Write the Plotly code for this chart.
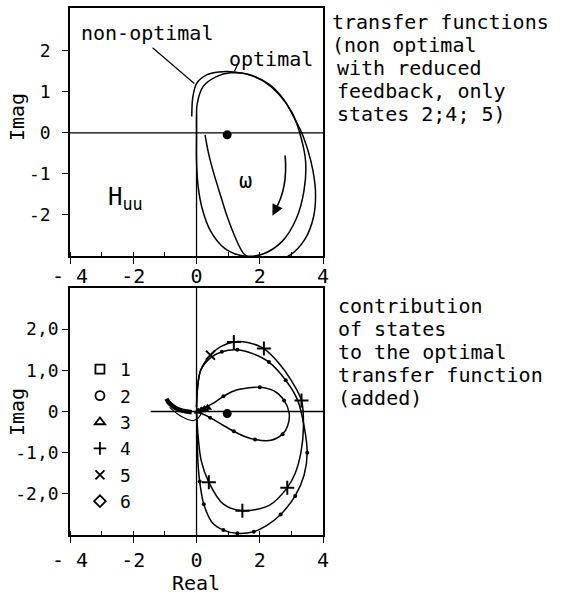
import plotly.graph_objects as go

FONT = "DejaVu Sans Mono"
INK = "black"

# ---- upper panel: transfer functions H_uu ----
opt_x = [0.0, 0.0, 0.02, 0.21, 0.63, 1.07, 1.6, 2.15, 2.62, 3.03, 3.3, 3.45, 3.4, 3.15, 2.7, 2.1, 1.5, 0.9, 0.45, 0.18, 0.05, 0.0, 0.0]
opt_y = [0.0, 0.35, 0.7, 1.13, 1.37, 1.46, 1.43, 1.24, 0.93, 0.48, -0.1, -0.7, -1.4, -2.1, -2.65, -2.95, -3.0, -2.82, -2.4, -1.85, -1.3, -0.7, 0.0]

nonopt_x = [-0.15, -0.12, 0.0, 0.32, 0.7, 1.2, 1.8, 2.3, 2.75, 3.1, 3.38, 3.62, 3.76, 3.7, 3.42, 2.95, 2.3, 1.8, 1.5, 1.2, 0.97, 0.75, 0.55, 0.38, 0.27]
nonopt_y = [0.4, 0.85, 1.2, 1.41, 1.48, 1.48, 1.38, 1.18, 0.82, 0.35, -0.1, -0.7, -1.4, -2.05, -2.6, -2.98, -3.14, -3.08, -2.95, -2.5, -2.04, -1.5, -1.0, -0.5, -0.05]

# ---- lower panel: contribution of the states (added) ----
plus_x = [0.0, 0.03, 0.13, 0.44, 0.75, 1.18, 1.65, 2.13, 2.6, 3.0, 3.32, 3.38, 3.3, 3.12, 2.87, 2.3, 1.45, 0.85, 0.39, 0.15, 0.05, 0.0]
plus_y = [0.1, 0.55, 1.0, 1.37, 1.57, 1.69, 1.67, 1.53, 1.18, 0.75, 0.27, -0.4, -1.0, -1.5, -1.85, -2.28, -2.41, -2.25, -1.72, -1.2, -0.6, 0.0]
plus_marks = [5, 7, 10, 14, 16, 18]
cross_marks = [3]

total_x = [0.0, 0.03, 0.13, 0.44, 0.8, 1.29, 1.8, 2.29, 2.82, 3.2, 3.4, 3.5, 3.4, 3.12, 2.66, 2.2, 1.81, 1.29, 0.85, 0.5, 0.23, 0.1, 0.05, 0.02, 0.0]
total_y = [0.1, 0.55, 1.0, 1.3, 1.45, 1.5, 1.4, 1.2, 0.76, 0.27, -0.35, -1.0, -1.55, -2.05, -2.5, -2.78, -2.92, -2.96, -2.88, -2.7, -2.25, -1.7, -1.3, -0.65, 0.0]
total_marks = [4, 5, 7, 8, 11, 13, 14, 16, 17, 18, 20, 21]

loop_x = [0.0, 0.25, 0.55, 0.85, 1.18, 1.6, 2.0, 2.45, 2.77, 2.93, 2.88, 2.72, 2.35, 1.85, 1.5, 1.18, 0.85, 0.43, 0.2, 0.0]
loop_y = [0.0, 0.09, 0.21, 0.37, 0.5, 0.57, 0.59, 0.5, 0.27, -0.04, -0.35, -0.55, -0.7, -0.68, -0.6, -0.48, -0.34, -0.15, -0.06, 0.0]
loop_marks = [3, 6, 8, 11, 13, 15, 17]

tail_x = [-0.95, -0.88, -0.75, -0.6, -0.45, -0.3, -0.15]
tail_y = [0.31, 0.22, 0.13, 0.06, 0.02, 0.0, -0.02]

under_x = [-0.85, -0.6, -0.35, -0.1, 0.05, 0.15]
under_y = [0.1, -0.06, -0.17, -0.22, -0.16, -0.05]

cluster_x = [0.05, 0.15, 0.25, 0.35]
cluster_y = [0.0, 0.03, 0.06, 0.09]

point_x = [0.97]
point_y = [-0.05]

# legend of state symbols
state_names = ["1", "2", "3", "4", "5", "6"]
state_symbols = ["square-open", "circle-open", "triangle-up-open", "cross-thin", "x-thin", "diamond-open"]

x_ticks = [-4, -2, 0, 2, 4]
x_ticktext = ["- 4", "-2", "0", "2", "4"]
y_ticks = [-2, -1, 0, 1, 2]
y_ticktext_top = ["-2", "-1", "0", "1", "2"]
y_ticktext_bot = ["-2,0", "-1,0", "0", "1,0", "2,0"]

fig = go.Figure()


def line(x, y, xa, ya, width=1.5):
    fig.add_trace(go.Scatter(
        x=x, y=y, xaxis=xa, yaxis=ya, mode="lines", showlegend=False,
        line=dict(color=INK, width=width, shape="spline", smoothing=0.9),
        hoverinfo="skip"))


def marks(x, y, idx, xa, ya, symbol, size, lw=1.5):
    fig.add_trace(go.Scatter(
        x=[x[i] for i in idx], y=[y[i] for i in idx], xaxis=xa, yaxis=ya,
        mode="markers", showlegend=False, hoverinfo="skip",
        marker=dict(symbol=symbol, size=size, color=INK,
                    line=dict(color=INK, width=lw))))


# upper panel curves
line(opt_x, opt_y, "x", "y")
line(nonopt_x, nonopt_y, "x", "y")
fig.add_trace(go.Scatter(x=point_x, y=point_y, xaxis="x", yaxis="y", mode="markers",
                         showlegend=False, marker=dict(color=INK, size=9)))

# lower panel curves
line(plus_x, plus_y, "x2", "y2")
marks(plus_x, plus_y, plus_marks, "x2", "y2", "cross-thin", 10, 2)
marks(plus_x, plus_y, cross_marks, "x2", "y2", "x-thin", 9, 2)
line(total_x, total_y, "x2", "y2")
marks(total_x, total_y, total_marks, "x2", "y2", "circle", 4, 0)
line(loop_x, loop_y, "x2", "y2")
marks(loop_x, loop_y, loop_marks, "x2", "y2", "circle", 4, 0)
line(tail_x, tail_y, "x2", "y2", width=4.5)
line(under_x, under_y, "x2", "y2", width=1.2)
fig.add_trace(go.Scatter(x=cluster_x, y=cluster_y, xaxis="x2", yaxis="y2", mode="lines+markers",
                         showlegend=False, line=dict(color=INK, width=4),
                         marker=dict(symbol="triangle-up", size=8, color=INK)))
fig.add_trace(go.Scatter(x=point_x, y=point_y, xaxis="x2", yaxis="y2", mode="markers",
                         showlegend=False, marker=dict(color=INK, size=9)))

# symbol key
for name, sym in zip(state_names, state_symbols):
    fig.add_trace(go.Scatter(
        x=[None], y=[None], xaxis="x2", yaxis="y2", mode="markers", name=name,
        marker=dict(symbol=sym, size=9, color=INK, line=dict(color=INK, width=1.8))))

axis_common = dict(showline=True, mirror=True, linecolor=INK, linewidth=1.6,
                   showgrid=False, zeroline=False, ticks="outside", ticklen=6,
                   tickcolor=INK, tickwidth=1.3, automargin=False)
x_common = dict(axis_common, range=[-4, 4], tickvals=x_ticks, ticktext=x_ticktext,
                tickfont=dict(family=FONT, size=20, color=INK),
                minor=dict(dtick=1, tick0=0, ticks="inside", ticklen=4,
                           tickcolor=INK, tickwidth=1.2))

fig.update_layout(
    template=None,
    width=567, height=600, margin=dict(l=0, r=0, t=0, b=0, autoexpand=False),
    paper_bgcolor="white", plot_bgcolor="white",
    font=dict(family=FONT, color=INK),
    xaxis=dict(x_common, domain=[0.1235, 0.5697], anchor="y", ticklabelstandoff=-5),
    yaxis=dict(axis_common, domain=[0.5733, 0.9867], anchor="x", range=[-3, 3.04],
               tickvals=y_ticks, ticktext=y_ticktext_top, ticklabelstandoff=8,
               tickfont=dict(family=FONT, size=18, color=INK)),
    xaxis2=dict(x_common, domain=[0.1235, 0.5697], anchor="y2", ticklabelstandoff=0),
    yaxis2=dict(axis_common, domain=[0.1083, 0.52], anchor="x2", range=[-3, 3],
                tickvals=y_ticks, ticktext=y_ticktext_bot, ticklabelstandoff=0,
                tickfont=dict(family=FONT, size=18, color=INK)),
    legend=dict(x=0.141, y=0.415, xanchor="left", yanchor="top",
                bgcolor="rgba(0,0,0,0)", font=dict(family=FONT, size=18, color=INK),
                itemwidth=30, tracegroupgap=0),
    showlegend=True,
)

# real / imaginary axes through the origin
shapes = [
    dict(type="line", xref="x", yref="y", x0=-4, x1=4, y0=0, y1=0, line=dict(color=INK, width=1.3)),
    dict(type="line", xref="x", yref="y", x0=0, x1=0, y0=-3, y1=0.45, line=dict(color=INK, width=1.3)),
    dict(type="line", xref="x2", yref="y2", x0=-1.45, x1=4, y0=0, y1=0, line=dict(color=INK, width=1.3)),
    dict(type="line", xref="x2", yref="y2", x0=0, x1=0, y0=-3, y1=3, line=dict(color=INK, width=1.3)),
    # leader lines for the curve labels
    dict(type="line", xref="x", yref="y", x0=-1.39, y0=2.07, x1=-0.07, y1=1.2, line=dict(color=INK, width=1.2)),
    dict(type="line", xref="x", yref="y", x0=1.33, y0=1.71, x1=1.2, y1=1.5, line=dict(color=INK, width=1.2)),
    # direction of increasing frequency
    dict(type="path", xref="x", yref="y", path="M 2.8,-0.55 Q 2.9,-1.35 2.47,-1.9",
         line=dict(color=INK, width=1.6)),
]
fig.update_layout(shapes=shapes)

ann = []


def text(s, x, y, size=20, xref="paper", yref="paper", xanchor="left", angle=0):
    ann.append(dict(text=s, x=x, y=y, xref=xref, yref=yref, xanchor=xanchor,
                    yanchor="middle", showarrow=False, textangle=angle,
                    font=dict(family=FONT, size=size, color=INK)))


W, H = 567.0, 600.0
text("non-optimal", -1.57, 2.42, xref="x", yref="y", xanchor="center")
text("optimal", 2.35, 1.8, xref="x", yref="y", xanchor="center")
text("H<sub>uu</sub>", -2.25, -1.6, size=24, xref="x", yref="y", xanchor="center")
text("ω", 1.55, -1.15, size=22, xref="x", yref="y", xanchor="center")
text("Imag", 17 / W, 1 - 117 / H, angle=-90, xanchor="center")
text("Imag", 17 / W, 1 - 412 / H, angle=-90, xanchor="center")
text("Real", 196 / W, 1 - 583 / H, xanchor="center")

top_lines = [("transfer functions", 330), ("(non optimal", 330), ("with reduced", 335),
             ("feedback, only", 335), ("states 2;4; 5)", 335)]
for i, (s, xp) in enumerate(top_lines):
    text(s, xp / W, 1 - (22 + 23 * i) / H)

bot_lines = ["contribution", "of states", "to the optimal", "transfer function", "(added)"]
for i, s in enumerate(bot_lines):
    text(s, 336 / W, 1 - (306 + 23 * i) / H)

ann.append(dict(x=2.4, y=-2.02, ax=2.52, ay=-1.84, xref="x", yref="y", axref="x", ayref="y",
                showarrow=True, arrowhead=2, arrowsize=1.6, arrowwidth=1.4, arrowcolor=INK, text=""))

fig.update_layout(annotations=ann)

fig.write_html("out.html")
